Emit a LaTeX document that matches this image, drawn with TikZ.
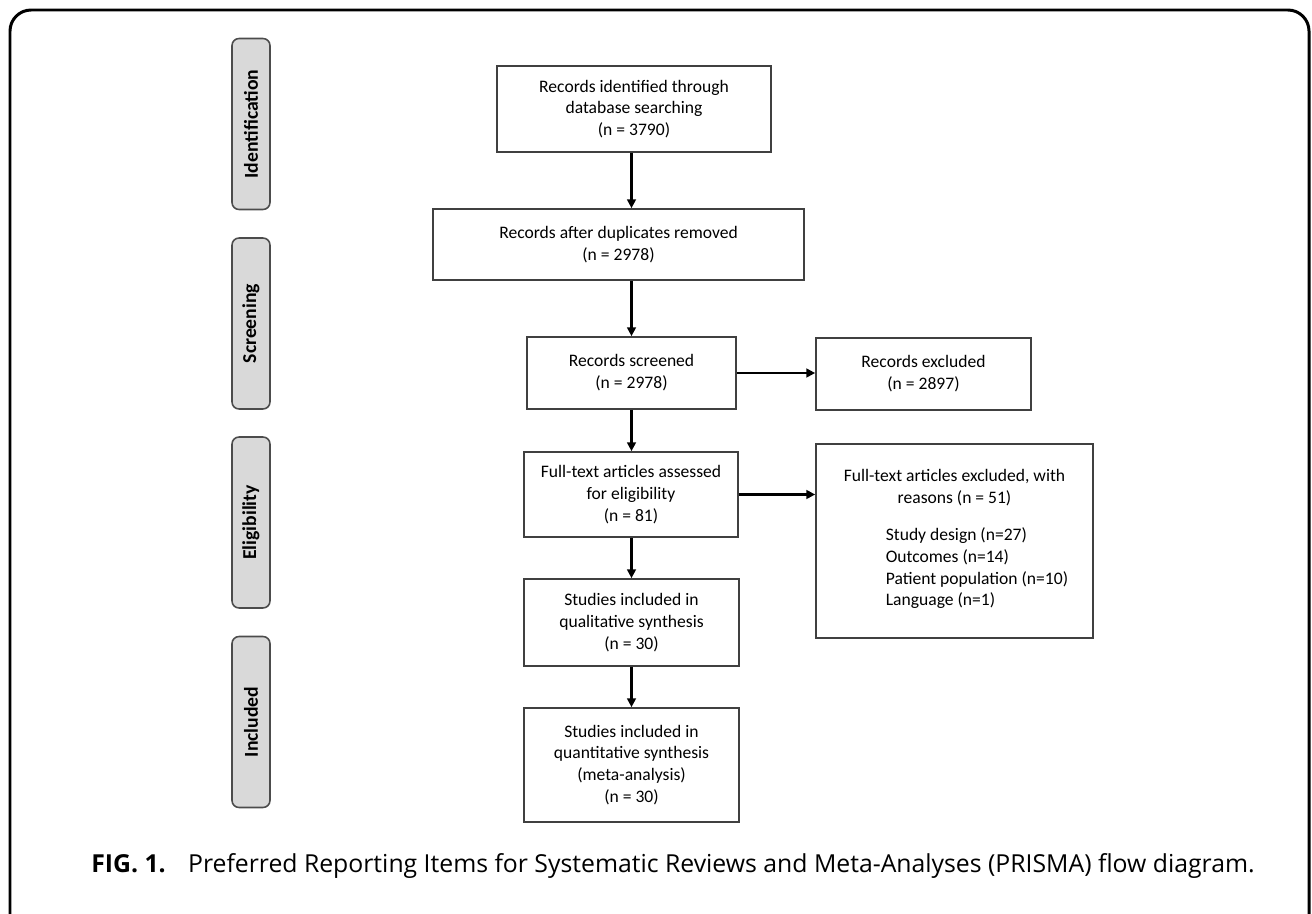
\documentclass[tikz,border=0pt]{standalone}
\usepackage{fontspec}
\setmainfont{Carlito}
\newfontfamily\capfont{Open Sans}
\usetikzlibrary{arrows.meta,positioning}

\begin{document}
\begin{tikzpicture}[
    x=0.02cm, y=-0.02cm,
    box/.style={rectangle, draw=black!75, line width=1pt, align=center, inner sep=0pt,
        font=\fontsize{10}{12.4}\selectfont},
    phase/.style={rectangle, draw=black!70, fill=black!15, rounded corners=4pt, line width=0.9pt,
        rotate=90, minimum width=3.42cm, minimum height=0.76cm, inner sep=0pt,
        font=\bfseries\fontsize{11.2}{12}\selectfont},
    arrow/.style={-{Triangle[length=5pt,width=5pt]}, line width=1.2pt}
]
\useasboundingbox (0,0) rectangle (1312,913);
\draw[line width=1.7pt, rounded corners=12pt] (10,925) -- (10,10) -- (1309,10) -- (1309,925);

% phases
\node[phase] (ident) at (251,124) {Identification};
\node[phase] (screen) at (251,323.5) {Screening};
\node[phase] (elig) at (251,522.5) {Eligibility};
\node[phase] (incl) at (251,722) {Included};

% flow boxes
\node[box, minimum width=5.48cm, minimum height=1.72cm] (ident1) at (634,109)
    {Records identified through\\database searching\\(n = 3790)};
\node[box, minimum width=7.42cm, minimum height=1.42cm] (dupl) at (618.5,244.5)
    {Records after duplicates removed\\(n = 2978)};
\node[box, minimum width=4.18cm, minimum height=1.44cm] (screened) at (631.5,373)
    {Records screened\\(n = 2978)};
\node[box, minimum width=4.30cm, minimum height=1.44cm] (excl) at (923.5,374)
    {Records excluded\\(n = 2897)};
\node[box, minimum width=4.28cm, minimum height=1.70cm] (fulltext) at (631,494.5)
    {Full-text articles assessed\\for eligibility\\(n = 81)};
\node[box, minimum width=5.54cm, minimum height=3.88cm] (ftexcl) at (954.5,541)
    {Full-text articles excluded, with\\reasons (n = 51)\\[0.8\baselineskip]
     \hspace*{0.9cm}\begin{tabular}{@{}l@{}}Study design (n=27)\\Outcomes (n=14)\\Patient population (n=10)\\Language (n=1)\end{tabular}};
\node[box, minimum width=4.30cm, minimum height=1.74cm] (qual) at (631.5,622.5)
    {Studies included in\\qualitative synthesis\\(n = 30)};
\node[box, minimum width=4.30cm, minimum height=2.28cm] (quant) at (631.5,765)
    {Studies included in\\quantitative synthesis\\(meta-analysis)\\(n = 30)};

% connectors
\draw[arrow] (ident1.south -| screened.north) -- (screened.north |- dupl.north);
\draw[arrow] (screened.north |- dupl.south) -- (screened.north);
\draw[arrow] (screened.south) -- (fulltext.north -| screened.south);
\draw[arrow] (screened.east) -- (excl.west |- screened.east);
\draw[arrow] (fulltext.east) -- (ftexcl.west |- fulltext.east);
\draw[arrow] (fulltext.south -| screened.south) -- (qual.north -| screened.south);
\draw[arrow] (qual.south -| screened.south) -- (quant.north -| screened.south);

% caption
\node[anchor=base west, inner sep=0pt, font=\capfont\fontsize{14.1}{16}\selectfont] (caption) at (91,872)
    {\textbf{FIG. 1.}\hspace{0.9em}Preferred Reporting Items for Systematic Reviews and Meta-Analyses (PRISMA) flow diagram.};
\end{tikzpicture}
\end{document}
